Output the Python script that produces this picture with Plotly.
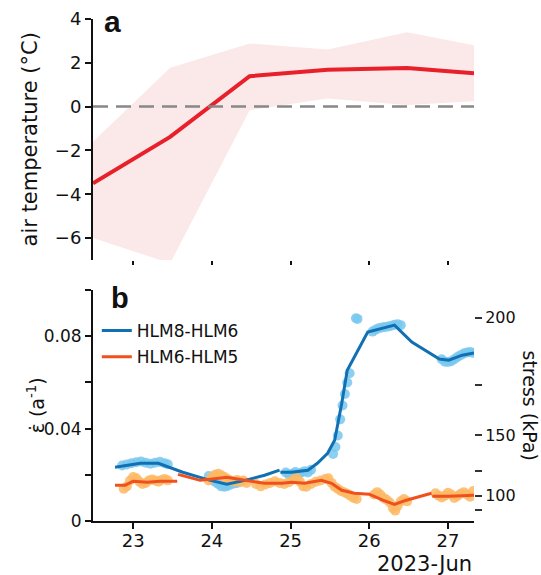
import plotly.graph_objects as go

# ---------------- data ----------------
# panel a: daily air temperature (°C)
temp_day = [22.49, 23.47, 24.48, 25.47, 26.48, 27.33]
temp_mean = [-3.5, -1.38, 1.39, 1.68, 1.76, 1.52]
temp_upper = [-1.6, 1.78, 2.88, 2.61, 3.4, 2.8]
temp_lower = [-6.0, -7.15, -0.16, 0.37, 0.07, 0.25]

day_ticks = [23, 24, 25, 26, 27]
day_labels = ["23", "24", "25", "26", "27"]

# panel b: strain rate (a^-1), smoothed lines
hlm86_day = [22.77, 23.09, 23.32, 23.63, 23.85, 23.98, 24.19, 24.42, 24.67, 24.86, None,
             24.87, 25.01, 25.22, 25.34, 25.47, 25.56, 25.65, 25.72, 25.98, 26.17, 26.32,
             26.54, 26.89, 27.01, 27.18, 27.33]
hlm86_rate = [0.0233, 0.0250, 0.0250, 0.0211, 0.0189, 0.0176, 0.0159, 0.0176, 0.0198, 0.0220, None,
              0.0211, 0.0211, 0.0220, 0.0250, 0.0293, 0.0350, 0.0510, 0.0653, 0.0818, 0.0835, 0.0848,
              0.0775, 0.0701, 0.0696, 0.0718, 0.0727]

hlm65_day = [22.77, 22.90, 23.00, 23.18, 23.34, 23.56, None,
             23.57, 23.85, 23.98, 24.19, 24.42, 24.67, 24.89, 25.01, 25.18, 25.39, 25.52,
             25.65, 25.81, 26.00, 26.17, 26.32, 26.47, 26.79, None,
             26.80, 27.01, 27.33]
hlm65_rate = [0.0155, 0.0155, 0.0172, 0.0168, 0.0172, 0.0172, None,
              0.0202, 0.0176, 0.0181, 0.0189, 0.0176, 0.0163, 0.0163, 0.0168, 0.0163, 0.0176, 0.0163,
              0.0133, 0.0120, 0.0116, 0.0090, 0.0072, 0.0090, 0.0120, None,
              0.0107, 0.0107, 0.0111]

# panel b: raw strain-rate samples
hlm86_raw_day = [22.86, 22.92, 22.98, 23.04, 23.10, 23.16, 23.22, 23.28, 23.34, 23.40, 23.44,
                 23.96, 24.00, 24.04, 24.08, 24.12, 24.16, 24.20, 24.24, 24.28, 24.32,
                 24.94, 24.98, 25.02, 25.06, 25.10, 25.14, 25.18, 25.22, 25.26,
                 25.54, 25.57, 25.60, 25.63, 25.66, 25.69, 25.72, 25.75,
                 25.83, 25.85,
                 26.04, 26.08, 26.12, 26.16, 26.20, 26.24, 26.28, 26.32, 26.36, 26.40,
                 26.92, 26.96, 27.00, 27.04, 27.08, 27.12, 27.16, 27.20, 27.24, 27.28, 27.32]
hlm86_raw_rate = [0.0240, 0.0245, 0.0250, 0.0254, 0.0258, 0.0252, 0.0248, 0.0252, 0.0256, 0.0250, 0.0246,
                  0.0195, 0.0180, 0.0170, 0.0160, 0.0150, 0.0148, 0.0152, 0.0158, 0.0162, 0.0165,
                  0.0210, 0.0200, 0.0205, 0.0212, 0.0205, 0.0210, 0.0215, 0.0210, 0.0222,
                  0.0290, 0.0320, 0.0370, 0.0440, 0.0500, 0.0550, 0.0600, 0.0640,
                  0.0878, 0.0875,
                  0.0820, 0.0828, 0.0835, 0.0838, 0.0840, 0.0842, 0.0845, 0.0850, 0.0852, 0.0848,
                  0.0700, 0.0690, 0.0688, 0.0692, 0.0700, 0.0710, 0.0718, 0.0725, 0.0730, 0.0732, 0.0728]

hlm65_raw_day = [22.88, 22.92, 22.96, 23.00, 23.04, 23.08, 23.12, 23.16, 23.20, 23.24, 23.28,
                 23.32, 23.36, 23.40, 23.44,
                 23.96, 24.00, 24.04, 24.08, 24.12, 24.16, 24.20, 24.24, 24.28, 24.32, 24.36, 24.40, 24.44,
                 24.56, 24.62, 24.68, 24.74, 24.80, 24.86, 24.92, 24.98, 25.04, 25.08, 25.12, 25.16,
                 25.20, 25.26, 25.32, 25.38, 25.44, 25.48, 25.52, 25.56, 25.60, 25.64, 25.68, 25.72,
                 25.76, 25.80, 25.84,
                 26.06, 26.10, 26.14, 26.18, 26.22, 26.26, 26.30, 26.33, 26.36, 26.40, 26.44, 26.48,
                 26.84, 26.88, 26.92, 26.96, 27.00, 27.04, 27.08, 27.12, 27.16, 27.20, 27.24, 27.28, 27.32]
hlm65_raw_rate = [0.0140, 0.0150, 0.0175, 0.0190, 0.0185, 0.0170, 0.0160, 0.0165, 0.0175, 0.0180, 0.0175,
                  0.0170, 0.0178, 0.0182, 0.0176,
                  0.0175, 0.0190, 0.0200, 0.0205, 0.0198, 0.0190, 0.0182, 0.0175, 0.0170, 0.0178, 0.0168, 0.0175, 0.0165,
                  0.0160, 0.0150, 0.0158, 0.0165, 0.0172, 0.0165, 0.0160, 0.0168, 0.0180, 0.0185, 0.0170, 0.0150,
                  0.0148, 0.0160, 0.0170, 0.0175, 0.0182, 0.0185, 0.0165, 0.0148, 0.0140, 0.0130, 0.0125, 0.0118,
                  0.0110, 0.0100, 0.0095,
                  0.0115, 0.0125, 0.0115, 0.0100, 0.0092, 0.0080, 0.0055, 0.0045, 0.0065, 0.0085, 0.0095, 0.0085,
                  0.0120, 0.0110, 0.0102, 0.0110, 0.0122, 0.0115, 0.0100, 0.0108, 0.0118, 0.0125, 0.0115, 0.0105, 0.0130]

rate_ticks = [0, 0.02, 0.04, 0.06, 0.08, 0.10]
rate_labels = ["0", "", "0.04", "", "0.08", ""]

stress_ticks = [200, 175, 150, 125, 100, 75]
stress_labels = ["200", "", "150", "", "100", ""]
GLEN_A = 1.1e-8  # strain rate = A * stress^3 (kPa)

temp_ticks = [-6, -4, -2, 0, 2, 4]
temp_labels = ["\u22126", "\u22124", "\u22122", "0", "2", "4"]

# ---------------- styles ----------------
FONT = "DejaVu Sans"
BLACK = "#111111"
BLUE = "#1170b4"
BLUE_LIGHT = "rgba(120,200,238,0.85)"
ORANGE = "#f0501e"
ORANGE_LIGHT = "rgba(253,184,100,0.85)"
RED = "#e8202a"
BAND = "#fbe9ea"

fig = go.Figure()

# panel a
fig.add_trace(go.Scatter(x=temp_day, y=temp_lower, mode="lines", line=dict(width=0),
                         showlegend=False, hoverinfo="skip", xaxis="x", yaxis="y"))
fig.add_trace(go.Scatter(x=temp_day, y=temp_upper, mode="lines", line=dict(width=0),
                         fill="tonexty", fillcolor=BAND, showlegend=False, hoverinfo="skip",
                         xaxis="x", yaxis="y"))
fig.add_trace(go.Scatter(x=temp_day, y=temp_mean, mode="lines", line=dict(color=RED, width=4),
                         showlegend=False, xaxis="x", yaxis="y"))

# panel b raw dots
fig.add_trace(go.Scatter(x=hlm86_raw_day, y=hlm86_raw_rate, mode="markers",
                         marker=dict(color=BLUE_LIGHT, size=10, line=dict(width=0)),
                         showlegend=False, xaxis="x2", yaxis="y2"))
fig.add_trace(go.Scatter(x=hlm65_raw_day, y=hlm65_raw_rate, mode="markers",
                         marker=dict(color=ORANGE_LIGHT, size=10, line=dict(width=0)),
                         showlegend=False, xaxis="x2", yaxis="y2"))
# panel b lines
fig.add_trace(go.Scatter(x=hlm86_day, y=hlm86_rate, mode="lines", name="HLM8-HLM6",
                         line=dict(color=BLUE, width=3), legendgroup="a",
                         xaxis="x2", yaxis="y2"))
fig.add_trace(go.Scatter(x=hlm65_day, y=hlm65_rate, mode="lines", name="HLM6-HLM5",
                         line=dict(color=ORANGE, width=3), legendgroup="b",
                         xaxis="x2", yaxis="y2"))
# invisible trace so the stress axis is drawn
fig.add_trace(go.Scatter(x=hlm86_day, y=hlm86_rate, mode="lines", line=dict(width=0),
                         opacity=0, showlegend=False, hoverinfo="skip",
                         xaxis="x2", yaxis="y3"))

axis_common = dict(showgrid=False, zeroline=False, tickcolor=BLACK, tickwidth=2,
                   linecolor=BLACK, linewidth=2, automargin=False)

fig.update_layout(
    width=541, height=575,
    margin=dict(l=93, r=67, t=10, b=54),
    paper_bgcolor="white", plot_bgcolor="white",
    font=dict(family=FONT, color=BLACK, size=17),
    xaxis=dict(domain=[0, 1], anchor="y", range=[22.49, 27.33], tickvals=day_ticks,
               showticklabels=False, ticks="outside", ticklen=4, showline=False, **axis_common),
    yaxis=dict(domain=[0.5108, 0.9824], anchor="x", range=[-7, 4], tickvals=temp_ticks,
               ticktext=temp_labels, ticks="outside", ticklen=6, showline=True,
               tickfont=dict(size=18), **axis_common),
    xaxis2=dict(domain=[0, 1], anchor="y2", range=[22.49, 27.33], tickvals=day_ticks,
                ticktext=day_labels, ticks="outside", ticklen=6, showline=True,
                ticklabelstandoff=-4, tickfont=dict(size=18), **axis_common),
    yaxis2=dict(domain=[0, 0.452], anchor="x2", range=[0, 0.1], tickvals=rate_ticks,
                ticktext=rate_labels, ticks="outside", ticklen=6, showline=True,
                tickfont=dict(size=17), **axis_common),
    yaxis3=dict(overlaying="y2", side="right", anchor="x2", range=[0, 0.1],
                tickvals=[GLEN_A * s ** 3 for s in stress_ticks], ticktext=stress_labels,
                ticks="outside", ticklen=7, showline=False, tickfont=dict(size=16),
                showgrid=False, zeroline=False, tickcolor="#333333", tickwidth=2,
                automargin=False),
    legend=dict(x=0.01, y=0.407, xanchor="left", yanchor="top", bgcolor="rgba(0,0,0,0)",
                font=dict(size=17), traceorder="grouped", tracegroupgap=1),
    shapes=[dict(type="line", xref="x domain", yref="y", x0=0, x1=1, y0=0, y1=0,
                 line=dict(color="#888888", width=2.5, dash="15px,8px"))],
    annotations=[
        dict(text="<b>a</b>", xref="paper", yref="paper", x=0.024, y=0.978,
             xanchor="left", yanchor="middle", showarrow=False,
             font=dict(family="Liberation Sans", size=30, color=BLACK)),
        dict(text="<b>b</b>", xref="paper", yref="paper", x=0.042, y=0.436,
             xanchor="left", yanchor="middle", showarrow=False,
             font=dict(family="Liberation Sans", size=29, color=BLACK)),
        dict(text="air temperature (°C)", xref="paper", yref="y domain", x=-0.163, y=0.5,
             xanchor="center", yanchor="middle", textangle=-90, showarrow=False,
             font=dict(size=21)),
        dict(text="\u03b5\u0307 (a<sup>-1</sup>)", xref="paper", yref="y2 domain", x=-0.15, y=0.5,
             xanchor="center", yanchor="middle", textangle=-90, showarrow=False,
             font=dict(size=19)),
        dict(text="stress (kPa)", xref="paper", yref="y2 domain", x=1.147, y=0.5,
             xanchor="center", yanchor="middle", textangle=90, showarrow=False,
             font=dict(size=19)),
        dict(text="2023-Jun", xref="paper", yref="paper", x=1.0, y=-0.084,
             xanchor="right", yanchor="middle", showarrow=False, font=dict(size=21)),
    ],
)

fig.write_html("out.html", config={"displayModeBar": False},
               post_script="document.body.style.margin='0px';")
